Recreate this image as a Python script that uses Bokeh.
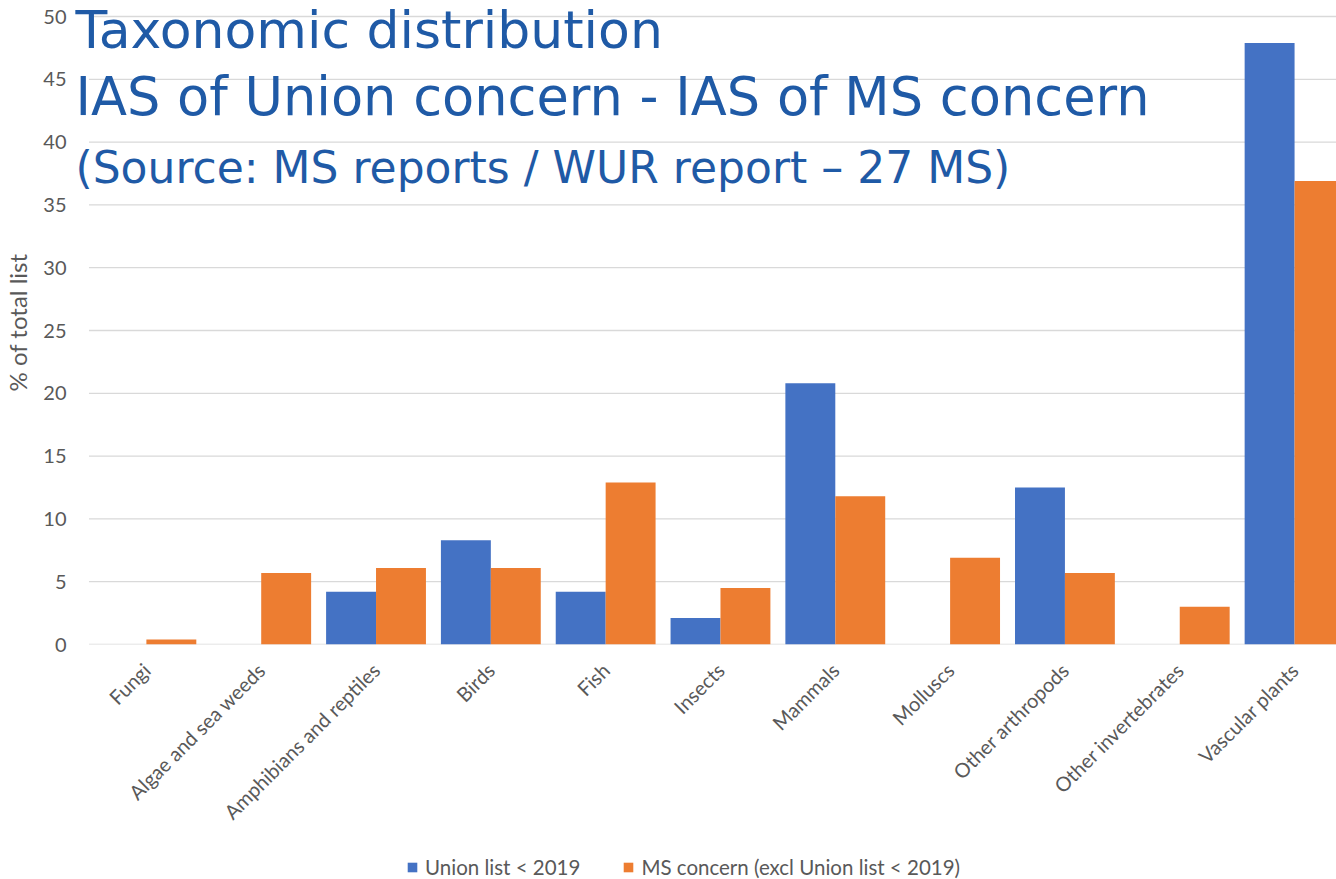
import numpy as np
from math import pi
from bokeh.plotting import figure
from bokeh.layouts import column
from bokeh.models import (Range1d, FixedTicker, Label, Legend, LegendItem,
                          ColumnDataSource)
from bokeh.transform import dodge
from bokeh.embed import file_html
from bokeh.resources import INLINE

categories = ["Fungi", "Algae and sea weeds", "Amphibians and reptiles", "Birds",
              "Fish", "Insects", "Mammals", "Molluscs", "Other arthropods",
              "Other invertebrates", "Vascular plants"]
union_list = [0, 0, 4.2, 8.3, 4.2, 2.1, 20.8, 0, 12.5, 0, 47.9]
ms_concern = [0.4, 5.7, 6.1, 6.1, 12.9, 4.5, 11.8, 6.9, 5.7, 3.0, 36.9]
series_names = ["Union list < 2019", "MS concern (excl Union list < 2019)"]
y_ticks = [0, 5, 10, 15, 20, 25, 30, 35, 40, 45, 50]
title_lines = ["Taxonomic distribution",
               "IAS of Union concern - IAS of MS concern",
               "(Source: MS reports / WUR report \u2013 27 MS)"]

BLUE = "#4472C4"
ORANGE = "#ED7D31"
GRAY = "#595959"
TITLE_BLUE = "#1F5AA6"
SMALL_FONT = "Lato"

W = 1336
FRAME_LEFT = 72
FRAME_BOTTOM_PX = 644
TOP_TICK_PX = 16
CAT_PX = 115.0
X0_PX = 86.5
x_start = -(X0_PX - FRAME_LEFT) / CAT_PX
x_end = x_start + (W - FRAME_LEFT) / CAT_PX
y_max = max(y_ticks)
y_end = y_max * FRAME_BOTTOM_PX / (FRAME_BOTTOM_PX - TOP_TICK_PX)

pos = (np.arange(len(categories)) + 0.5).tolist()
src = ColumnDataSource(dict(x=pos, union=union_list, ms=ms_concern, cat=categories))

p = figure(width=W, height=849, output_backend="svg", toolbar_location=None,
           x_range=Range1d(x_start, x_end), y_range=Range1d(0, y_end),
           min_border_left=FRAME_LEFT, min_border_right=0, min_border_top=0,
           min_border_bottom=849 - FRAME_BOTTOM_PX)

# horizontal grid lines starting at the first category's left edge
p.segment(x0=0, x1=x_end, y0=y_ticks, y1=y_ticks, line_color="#D9D9D9",
          line_width=1.3)

bw = 50 / CAT_PX
r1 = p.vbar(x=dodge("x", -bw / 2, range=p.x_range), top="union", width=bw,
            source=src, fill_color=BLUE, line_color=None)
r2 = p.vbar(x=dodge("x", bw / 2, range=p.x_range), top="ms", width=bw,
            source=src, fill_color=ORANGE, line_color=None)

p.outline_line_color = None
p.xgrid.grid_line_color = None
p.ygrid.grid_line_color = None

p.yaxis.ticker = FixedTicker(ticks=y_ticks)
p.yaxis.axis_line_color = None
p.yaxis.major_tick_line_color = None
p.yaxis.minor_tick_line_color = None
p.yaxis.major_label_standoff = 2
p.yaxis.major_label_text_font = SMALL_FONT
p.yaxis.major_label_text_font_size = "20px"
p.yaxis.major_label_text_color = GRAY
p.yaxis.axis_label = "% of total list"
p.yaxis.axis_label_text_font = SMALL_FONT
p.yaxis.axis_label_text_font_size = "24px"
p.yaxis.axis_label_text_font_style = "normal"
p.yaxis.axis_label_text_color = GRAY
p.yaxis.axis_label_standoff = 8

p.xaxis.ticker = FixedTicker(ticks=pos)
p.xaxis.major_label_overrides = {float(x): c for x, c in zip(pos, categories)}
p.xaxis.major_label_orientation = pi / 4
p.xaxis.axis_line_color = None
p.xaxis.major_tick_line_color = None
p.xaxis.minor_tick_line_color = None
p.xaxis.major_label_standoff = 16
p.xaxis.major_label_text_font = SMALL_FONT
p.xaxis.major_label_text_font_size = "20px"
p.xaxis.major_label_text_color = GRAY

title_y = [615, 548, 477]
title_sizes = ["52px", "52.6px", "44px"]
for txt, yy, fs in zip(title_lines, title_y, title_sizes):
    p.add_layout(Label(x=1, y=yy, x_units="screen", y_units="screen",
                       text=txt, text_font="DejaVu Sans", text_font_size=fs,
                       text_color=TITLE_BLUE, text_baseline="alphabetic"))

# legend strip below the chart (frame aligned with the chart's frame)
p2 = figure(width=W, height=30, output_backend="svg", toolbar_location=None,
            x_axis_location=None, y_axis_location=None,
            x_range=Range1d(0, 1), y_range=Range1d(0, 1), min_border=0)
p2.outline_line_color = None
p2.grid.visible = False
d1 = p2.vbar(x="x", top="union", width=bw, source=src, fill_color=BLUE,
             line_color=None, visible=False)
d2 = p2.vbar(x="x", top="ms", width=bw, source=src, fill_color=ORANGE,
             line_color=None, visible=False)
legend = Legend(items=[LegendItem(label=series_names[0], renderers=[d1]),
                       LegendItem(label=series_names[1], renderers=[d2])],
                location=(404 - FRAME_LEFT, 0), orientation="horizontal",
                border_line_color=None, background_fill_alpha=0,
                inactive_fill_alpha=0,
                padding=0, margin=0, spacing=42, label_standoff=7,
                glyph_width=12, glyph_height=12,
                label_text_font=SMALL_FONT, label_text_font_size="20.5px",
                label_text_color=GRAY)
p2.add_layout(legend)

layout = column(p, p2, spacing=0)
open("out.html", "w").write(file_html(layout, INLINE))
